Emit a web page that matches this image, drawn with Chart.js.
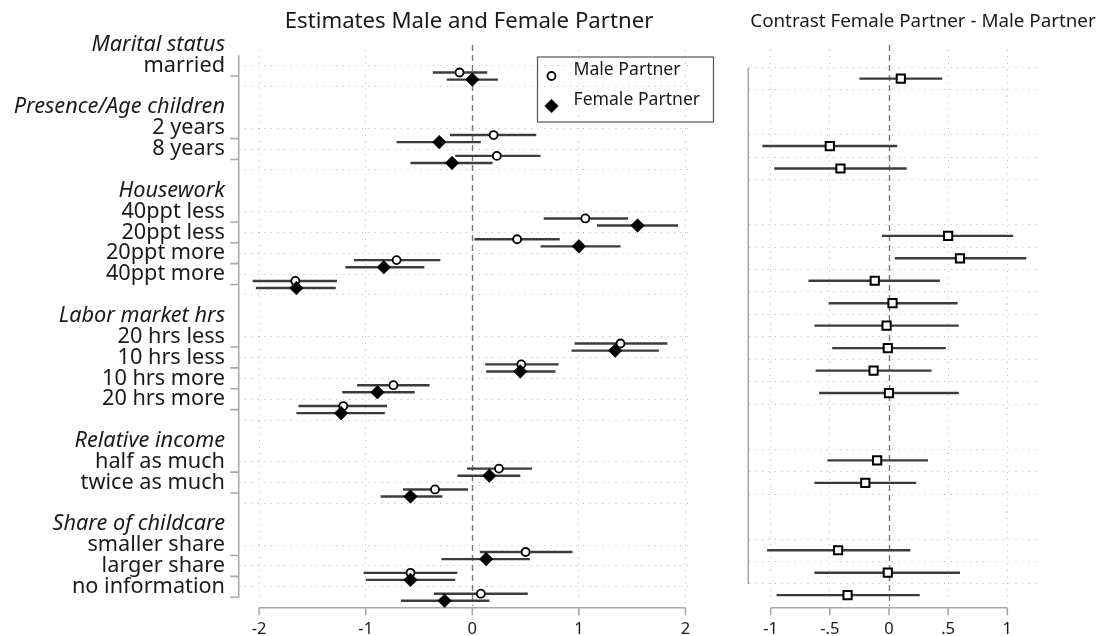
<!DOCTYPE html>
<html>
<head>
<meta charset="utf-8">
<script src="https://cdn.jsdelivr.net/npm/chart.js@4/dist/chart.umd.min.js"></script>
<style>
  html, body { margin: 0; padding: 0; background: #fff; width: 1099px; height: 636px; overflow: hidden; }
  canvas { position: absolute; top: 0; }
  #est { left: 0; }
  #con { left: 720px; }
</style>
</head>
<body>
<canvas id="est" width="720" height="636"></canvas>
<canvas id="con" width="406" height="636"></canvas>
<script>
// ---- data -------------------------------------------------------------
const groupTitles = ['Marital status', 'Presence/Age children', 'Housework',
  'Labor market hrs', 'Relative income', 'Share of childcare'];
const categories = ['married', '2 years', '8 years', '40ppt less', '20ppt less',
  '20ppt more', '40ppt more', '20 hrs less', '10 hrs less', '10 hrs more',
  '20 hrs more', 'half as much', 'twice as much', 'smaller share',
  'larger share', 'no information'];
const categoryGroup = [0, 1, 1, 2, 2, 2, 2, 3, 3, 3, 3, 4, 4, 5, 5, 5];
// the contrast panel runs housework and labor market rows as one block
const contrastBlock = [0, 1, 1, 2, 2, 2, 2, 2, 2, 2, 2, 3, 3, 4, 4, 4];

const seriesNames = ['Male Partner', 'Female Partner'];
const maleEst  = [-0.12, 0.20, 0.23, 1.06, 0.42, -0.71, -1.66, 1.39, 0.46, -0.74, -1.21, 0.25, -0.35, 0.50, -0.58, 0.08];
const maleLo   = [-0.37, -0.21, -0.16, 0.67, 0.02, -1.11, -2.06, 0.96, 0.12, -1.08, -1.63, -0.05, -0.65, 0.07, -1.02, -0.36];
const maleHi   = [0.14, 0.60, 0.64, 1.46, 0.82, -0.30, -1.27, 1.83, 0.81, -0.40, -0.80, 0.56, -0.04, 0.94, -0.14, 0.52];
const femaleEst = [0.00, -0.31, -0.19, 1.55, 1.00, -0.83, -1.65, 1.34, 0.45, -0.89, -1.23, 0.16, -0.58, 0.13, -0.58, -0.26];
const femaleLo  = [-0.24, -0.71, -0.58, 1.17, 0.64, -1.19, -2.03, 0.93, 0.13, -1.22, -1.65, -0.14, -0.86, -0.29, -1.00, -0.67];
const femaleHi  = [0.24, 0.08, 0.19, 1.93, 1.39, -0.45, -1.28, 1.75, 0.78, -0.54, -0.82, 0.45, -0.28, 0.54, -0.16, 0.16];
const contrastEst = [0.10, -0.50, -0.41, 0.50, 0.60, -0.12, 0.03, -0.02, -0.01, -0.13, 0.00, -0.10, -0.20, -0.43, -0.01, -0.35];
const contrastLo  = [-0.25, -1.07, -0.97, -0.06, 0.05, -0.68, -0.51, -0.63, -0.48, -0.62, -0.59, -0.52, -0.63, -1.03, -0.63, -0.95];
const contrastHi  = [0.45, 0.07, 0.15, 1.05, 1.16, 0.43, 0.58, 0.59, 0.48, 0.36, 0.59, 0.33, 0.23, 0.18, 0.60, 0.26];

const estTicks = [-2, -1, 0, 1, 2];
const estTickLabels = ['-2', '-1', '0', '1', '2'];
const conTicks = [-1, -0.5, 0, 0.5, 1];
const conTickLabels = ['-1', '-.5', '0', '.5', '1'];

// ---- styling ------------------------------------------------------------
const FONT = "'Noto Sans', 'Open Sans', sans-serif";
const TEXT = '#1a1a1a';
const GRID = '#b9b9b9';
const AXIS = '#a9a9a9';
const CI = '#3c3c3c';
const SERIES_SHIFT = 0.17;   // vertical shift of the two series around a row

// Row layout: heading row, item rows, then a spacer row between blocks
function layoutRows(blocks, titles) {
  const itemRow = [];
  const rows = [];
  const nBlocks = Math.max(...blocks) + 1;
  let r = -1;
  for (let b = 0; b < nBlocks; b++) {
    rows.push({ row: r, kind: 'heading', text: titles ? titles[b] : '' });
    r++;
    blocks.forEach((g, i) => {
      if (g === b) {
        itemRow[i] = r;
        rows.push({ row: r, kind: 'item', text: titles ? categories[i] : '' });
        r++;
      }
    });
    if (b < nBlocks - 1) { rows.push({ row: r, kind: 'blank', text: '' }); r++; }
  }
  return { itemRow, rows };
}

const estRows = layoutRows(categoryGroup, groupTitles);
const conRows = layoutRows(contrastBlock, null);

// axis lines, tick marks and the zero reference line
const frame = {
  id: 'frame',
  beforeDatasetsDraw(chart, args, o) {
    const { ctx, chartArea: ca, scales: { x, y } } = chart;
    ctx.save();
    // zero reference line
    const x0 = Math.round(x.getPixelForValue(0)) + 0.5;
    ctx.strokeStyle = '#777';
    ctx.lineWidth = 1.4;
    ctx.setLineDash([6, 4]);
    ctx.beginPath();
    ctx.moveTo(x0, ca.top - 5);
    ctx.lineTo(x0, ca.bottom + 3);
    ctx.stroke();
    ctx.setLineDash([]);
    // y axis
    ctx.strokeStyle = AXIS;
    ctx.lineWidth = 1.6;
    const ax = ca.left - o.yGap;
    ctx.beginPath();
    ctx.moveTo(ax, y.getPixelForValue(o.yFrom));
    ctx.lineTo(ax, y.getPixelForValue(o.yTo));
    (o.yTickRows || []).forEach(r => {
      const py = y.getPixelForValue(r);
      ctx.moveTo(ax - 8.5, py);
      ctx.lineTo(ax, py);
    });
    ctx.stroke();
    // x axis
    const ay = ca.bottom + 4.7;
    const t = o.xTicks;
    ctx.beginPath();
    ctx.moveTo(x.getPixelForValue(t[0]), ay);
    ctx.lineTo(x.getPixelForValue(t[t.length - 1]), ay);
    t.forEach(v => {
      const px = x.getPixelForValue(v);
      ctx.moveTo(px, ay);
      ctx.lineTo(px, ay + 7.5);
    });
    ctx.stroke();
    ctx.restore();
  }
};

// boxed legend inside the plot region
const boxLegend = {
  id: 'boxLegend',
  afterDatasetsDraw(chart, args, o) {
    if (!o.items) return;
    const { ctx } = chart;
    ctx.save();
    ctx.strokeStyle = '#555';
    ctx.lineWidth = 1.2;
    ctx.strokeRect(o.left, o.top, o.width, o.height);
    ctx.font = `17.6px ${FONT}`;
    ctx.textBaseline = 'middle';
    ctx.textAlign = 'left';
    o.items.forEach((it, k) => {
      const ds = chart.data.datasets[it.dataset];
      const my = o.top + 19 + k * 30;
      ctx.lineWidth = ds.pointBorderWidth;
      ctx.strokeStyle = ds.pointBorderColor;
      ctx.fillStyle = ds.pointBackgroundColor;
      Chart.helpers.drawPoint(ctx, { pointStyle: ds.pointStyle, radius: ds.pointRadius, rotation: 0, borderWidth: ds.pointBorderWidth }, o.left + 14, my);
      ctx.fillStyle = TEXT;
      ctx.fillText(it.text, o.left + 36, my - 6);
    });
    ctx.restore();
  }
};

function yScale(rowsInfo, min, max, width, showLabels) {
  return {
    type: 'linear', reverse: true, min, max, offset: false,
    afterBuildTicks(s) {
      s.ticks = rowsInfo.rows.map(r => ({ value: r.row - 0.5, kind: r.kind, text: r.text }));
    },
    afterFit(s) { s.width = width; },
    border: { display: false, dash: [1, 5.5] },
    grid: {
      offset: false, drawTicks: false, lineWidth: 1,
      color: c => (c.tick && c.tick.kind === 'heading') ? 'rgba(0,0,0,0)' : GRID
    },
    ticks: {
      display: showLabels, autoSkip: false, padding: 20, color: TEXT,
      callback: (v, i, ticks) => ticks[i].text,
      font: c => ({ family: FONT, size: 21.7, style: (c.tick && c.tick.kind === 'heading') ? 'italic' : 'normal' })
    }
  };
}

function xScale(min, max, ticks, labels) {
  return {
    type: 'linear', min, max, offset: false,
    afterBuildTicks(s) { s.ticks = ticks.map(v => ({ value: v })); },
    afterFit(s) { s.height = 33; },
    border: { display: false, dash: [1, 5.5] },
    grid: {
      offset: false, drawTicks: false, lineWidth: 1,
      color: c => (c.tick && c.tick.value === 0) ? 'rgba(0,0,0,0)' : GRID
    },
    ticks: {
      autoSkip: false, maxRotation: 0, padding: 16, color: TEXT,
      font: { family: FONT, size: 16.5 },
      callback: (v, i) => labels[i]
    }
  };
}

// empty right-hand axis that reserves margin beside the contrast panel
const spacerAxis = {
  position: 'right', display: true,
  grid: { display: false }, border: { display: false }, ticks: { display: false },
  afterFit(s) { s.width = 85; }
};

function ciSet(lo, hi, rows, shift, order) {
  return {
    type: 'bar', order, grouped: false, clip: false,
    data: categories.map((c, i) => ({ y: rows[i] + shift, x: [lo[i], hi[i]] })),
    backgroundColor: CI, borderWidth: 0, inflateAmount: 0, maxBarThickness: 2.4
  };
}

function markerSet(label, est, rows, shift, order, style) {
  return Object.assign({
    type: 'scatter', label, order, clip: false,
    data: categories.map((c, i) => ({ x: est[i], y: rows[i] + shift }))
  }, style);
}

const circleStyle = { pointStyle: 'circle', pointRadius: 4.0, pointBorderWidth: 1.8, pointBorderColor: '#000', pointBackgroundColor: '#fff' };
const diamondStyle = { pointStyle: 'rectRot', pointRadius: 6.8, pointBorderWidth: 0.6, pointBorderColor: '#000', pointBackgroundColor: '#000' };
const squareStyle = { pointStyle: 'rect', pointRadius: 5.8, pointBorderWidth: 2, pointBorderColor: '#000', pointBackgroundColor: '#fff' };

const common = {
  responsive: false, animation: false, devicePixelRatio: 1, indexAxis: 'y',
  events: []
};

const ir = estRows.itemRow;
new Chart(document.getElementById('est'), {
  type: 'bar',
  data: {
    datasets: [
      ciSet(maleLo, maleHi, ir, -SERIES_SHIFT, 3),
      markerSet(seriesNames[0], maleEst, ir, -SERIES_SHIFT, 2, circleStyle),
      ciSet(femaleLo, femaleHi, ir, SERIES_SHIFT, 1),
      markerSet(seriesNames[1], femaleEst, ir, SERIES_SHIFT, 0, diamondStyle)
    ]
  },
  options: Object.assign({}, common, {
    layout: { padding: { left: 0, right: 27, top: 0, bottom: 0 } },
    scales: {
      x: xScale(-2.132, 2.070, estTicks, estTickLabels),
      y: yScale(estRows, -1.247, 25.276, 245, true)
    },
    plugins: {
      legend: { display: false },
      tooltip: { enabled: false },
      title: {
        display: true, fullSize: false, text: 'Estimates Male and Female Partner', color: TEXT,
        font: { family: FONT, size: 22.2, weight: 'normal' }, padding: { top: 8, bottom: 15.4 }
      },
      frame: { yGap: 6.3, yFrom: -1, yTo: 25, yTickRows: ir, xTicks: estTicks },
      boxLegend: {
        left: 537.5, top: 57, width: 176, height: 65,
        items: [{ dataset: 1, text: seriesNames[0] }, { dataset: 3, text: seriesNames[1] }]
      }
    }
  }),
  plugins: [frame, boxLegend]
});

const cr = conRows.itemRow;
new Chart(document.getElementById('con'), {
  type: 'bar',
  data: {
    datasets: [
      ciSet(contrastLo, contrastHi, cr, 0, 1),
      markerSet('Contrast', contrastEst, cr, 0, 0, squareStyle)
    ]
  },
  options: Object.assign({}, common, {
    layout: { padding: { left: 0, right: 0, top: 0, bottom: 0 } },
    scales: {
      x: xScale(-1.183, 1.285, conTicks, conTickLabels),
      y: yScale(conRows, -1.278, 23.35, 29, false),
      yPad: spacerAxis
    },
    plugins: {
      legend: { display: false },
      tooltip: { enabled: false },
      title: {
        display: true, text: 'Contrast Female Partner - Male Partner', color: TEXT,
        font: { family: FONT, size: 18.8, weight: 'normal' }, padding: { top: 10, bottom: 17.4 }
      },
      frame: { yGap: 0.7, yFrom: -0.5, yTo: 22.5, xTicks: conTicks },
      boxLegend: {}
    }
  }),
  plugins: [frame, boxLegend]
});
</script>
</body>
</html>
